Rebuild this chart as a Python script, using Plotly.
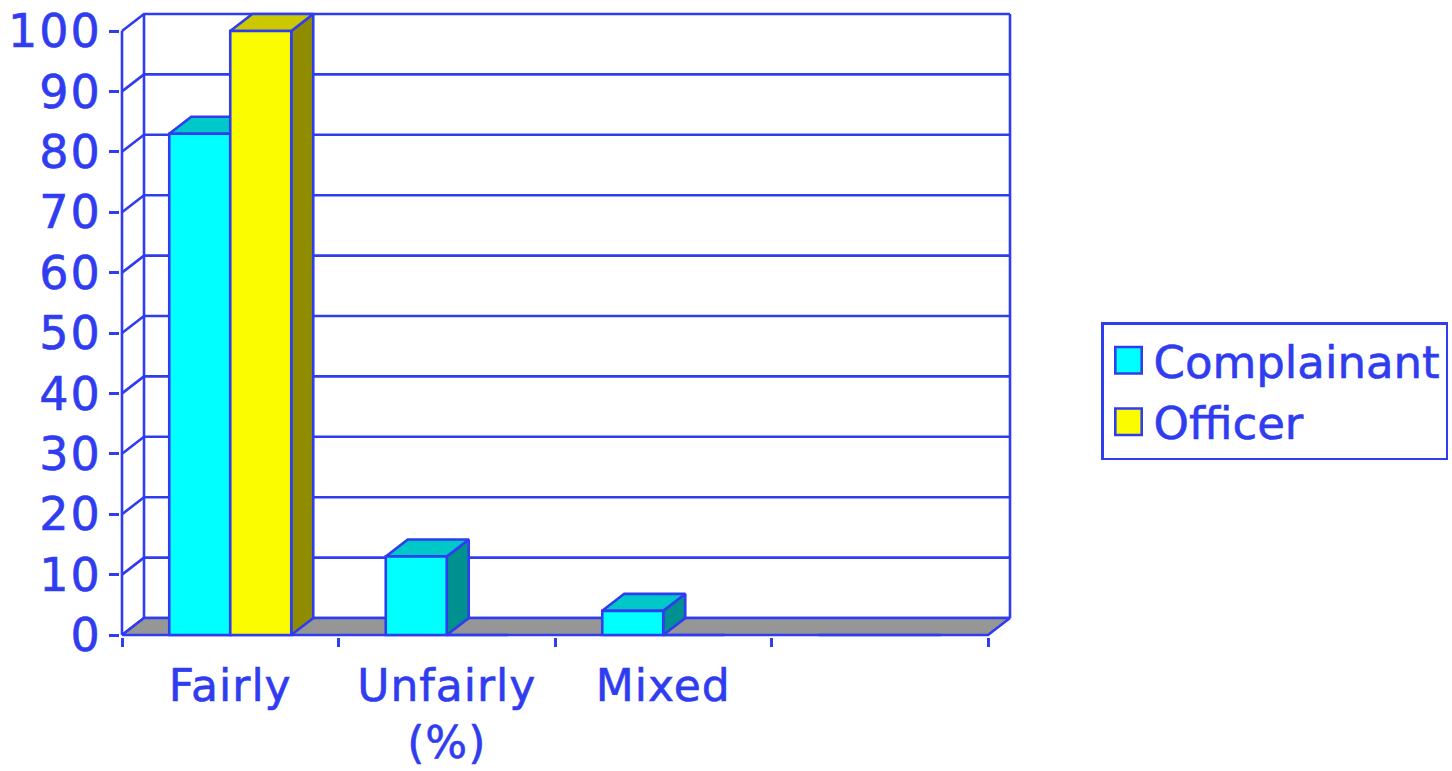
import plotly.graph_objects as go

categories = ["Fairly", "Unfairly<br>(%)", "Mixed", " "]
complainant = [83, 13, 4, 0]
officer = [100, 0, 0, 0]
y_ticks = list(range(0, 101, 10))
series_names = ["Complainant", "Officer"]

BLUE = "#2f3cf0"
FONT = "DejaVu Sans"
FSIZE = 46
W, H = 1452, 771
PAD = 2                         # room round the walls so their lines are not clipped
L, R, T, B = 122 - PAD, 1010 + PAD, 14 - PAD, 635 + PAD
UX = (988 - 122) / 4            # pixels per category
UY = (635 - 31) / 100           # pixels per value unit
DX = 22 / UX                    # depth offset, in axis units
DY = 17 / UY
BW = 61 / UX                    # bar width
LW = 2.6
x_min, x_max = -0.5, 3.5
xr = [x_min - PAD / UX, x_max + DX + PAD / UX]
yr = [-PAD / UY, 100 + DY + PAD / UY]

fig = go.Figure()

def poly(xs, ys, fill):
    fig.add_trace(go.Scatter(x=xs, y=ys, mode="lines", fill="toself", fillcolor=fill,
                             line=dict(color=BLUE, width=LW), hoverinfo="skip",
                             showlegend=False, xaxis="x", yaxis="y"))

# walls and grid
gx, gy = [], []
for t in y_ticks:
    gx += [x_min, x_min + DX, x_max + DX, None]
    gy += [t, t + DY, t + DY, None]
gx += [x_min + DX, x_min + DX, None, x_max + DX, x_max + DX, None, x_min, x_min]
gy += [DY, 100 + DY, None, DY, 100 + DY, None, 0, 100]
fig.add_trace(go.Scatter(x=gx, y=gy, mode="lines", line=dict(color=BLUE, width=LW),
                         hoverinfo="skip", showlegend=False, xaxis="x", yaxis="y"))
# floor
poly([x_min, x_max, x_max + DX, x_min + DX, x_min], [0, 0, DY, DY, 0], "#969696")

# depth faces of each bar
def faces(vals, x0_of, top, side):
    tx, ty, sx, sy = [], [], [], []
    for i, v in enumerate(vals):
        if v <= 0:
            continue
        a, b = x0_of(i), x0_of(i) + BW
        tx += [a, b, b + DX, a + DX, a, None]
        ty += [v, v, v + DY, v + DY, v, None]
        sx += [b, b + DX, b + DX, b, b, None]
        sy += [0, DY, v + DY, v, 0, None]
    poly(sx, sy, side)
    poly(tx, ty, top)

faces(complainant, lambda i: i - BW, "#00c8c8", "#009090")
faces(officer, lambda i: i, "#ccc800", "#908c00")

# front faces
fig.add_trace(go.Bar(x=categories, y=complainant, name=series_names[0], xaxis="x2", yaxis="y",
                     marker=dict(color="#00ffff", line=dict(color=BLUE, width=LW))))
fig.add_trace(go.Bar(x=categories, y=officer, name=series_names[1], xaxis="x2", yaxis="y",
                     marker=dict(color="#fcfc00", line=dict(color=BLUE, width=LW))))

fig.update_layout(
    width=W, height=H, autosize=False,
    margin=dict(l=L, r=W - R, t=T, b=H - B, pad=0),
    paper_bgcolor="white", plot_bgcolor="white",
    barmode="group", bargap=1 - 2 * BW, bargroupgap=0,
    font=dict(family=FONT, size=FSIZE, color=BLUE),
    xaxis=dict(visible=False, range=xr, fixedrange=True, automargin=False),
    xaxis2=dict(overlaying="x", anchor="y", side="bottom", type="category", automargin=False,
                categoryorder="array", categoryarray=categories, range=xr,
                tickson="boundaries", ticks="outside", ticklen=9, tickwidth=2.5, tickcolor=BLUE,
                showgrid=False, zeroline=False, showline=False, tickangle=0, ticklabelstandoff=19,
                tickfont=dict(family=FONT, size=44, color=BLUE), fixedrange=True),
    yaxis=dict(range=yr, tickmode="array", tickvals=y_ticks, ticks="outside", ticklen=10,
               automargin=False, ticklabelstandoff=-2,
               tickwidth=2.5, tickcolor=BLUE, showgrid=False, zeroline=False, showline=False,
               tickfont=dict(family=FONT, size=FSIZE, color=BLUE), fixedrange=True),
    legend=dict(xref="container", yref="container", x=1101 / W, y=1 - 322 / H,
                xanchor="left", yanchor="top",
                bgcolor="white", bordercolor=BLUE, borderwidth=2.5, itemwidth=40,
                font=dict(family=FONT, size=45, color=BLUE), traceorder="normal"),
    showlegend=True,
)

post = """
document.body.style.margin='0';
document.documentElement.style.overflow='hidden';
document.querySelectorAll('.legend .legendpoints path').forEach(function(p){
  p.setAttribute('transform',(p.getAttribute('transform')||'')+' scale(2.2)');
  p.style.vectorEffect='non-scaling-stroke';
});
document.querySelectorAll('.ytick text').forEach(function(t){t.style.letterSpacing='2px';});
document.querySelectorAll('.x2tick text').forEach(function(t){t.style.letterSpacing='1px';});
document.querySelectorAll('.ytick text, .x2tick text, .legendtext').forEach(function(t){
  t.style.stroke='#2f3cf0'; t.style.strokeWidth='0.6px';
});
"""
fig.write_html("out.html", post_script=post, config=dict(displayModeBar=False))
